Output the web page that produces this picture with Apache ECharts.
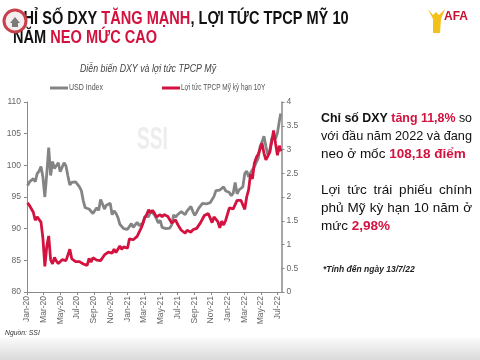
<!DOCTYPE html>
<html><head><meta charset="utf-8">
<script src="https://cdn.jsdelivr.net/npm/echarts@6/dist/echarts.min.js"></script>
<style>html,body{margin:0;padding:0;background:#fff}#c{width:480px;height:360px}</style>
</head><body><div id="c"></div>
<script>
// ---- DATA ----
const xTickLabels = ['Jan-20','Mar-20','May-20','Jul-20','Sep-20','Nov-20','Jan-21','Mar-21','May-21','Jul-21','Sep-21','Nov-21','Jan-22','Mar-22','May-22','Jul-22'];
const seriesNames = ['USD Index', 'Lợi tức TPCP Mỹ kỳ hạn 10Y'];
// weekly readings, first week ending 3 Jan 2020, last reading 13 Jul 2022
const dxyWeekly = [
  96.8, 97.4, 97.6, 97.9, 97.4,   98.7, 99.1, 99.8, 98.1,   95.0, 98.7, 102.8, 98.4,
  100.6, 99.5, 99.8, 100.4,   99.0, 99.7, 100.4, 99.9, 98.3,   96.9, 97.3, 97.6, 97.4,
  97.2, 96.6, 96.0, 94.4, 93.3,   93.4, 93.1, 93.2, 92.4,   92.7, 93.3, 92.9, 94.6,
  93.9, 93.1, 93.7, 93.4, 94.0,   92.2, 92.8, 92.4, 91.8,   90.7, 91.0, 90.0, 90.2,
  89.9, 90.1, 90.8, 90.2, 90.6,   91.0, 90.5, 90.4, 90.9,   91.9, 91.7, 91.9, 92.8,
  93.0, 92.2, 91.6, 90.9, 91.3,   90.2, 90.3, 90.0, 90.0,   90.1, 90.6, 92.2, 91.8,
  92.2, 92.1, 92.7, 92.9, 92.2,   92.8, 92.5, 93.5, 92.7,   92.1, 92.6, 93.2, 93.3,
  94.0, 94.1, 93.9, 93.6, 94.1,   94.3, 95.1, 96.0, 96.1,   96.1, 96.1, 96.6, 96.0, 95.7,
  95.7, 95.2, 95.6, 97.3,   95.5, 96.1, 96.0, 96.6,   98.7, 99.1, 98.2, 98.8,
  98.6, 99.8, 100.5, 101.1, 103.0,   103.7, 104.6, 103.0, 101.7,   102.2, 104.2, 104.7, 104.2,
  105.1, 107.0, 108.2
];
const ust10yWeekly = [
  1.88, 1.82, 1.84, 1.68, 1.51,   1.58, 1.59, 1.47, 1.13,   0.54, 0.96, 1.18, 0.68,
  0.59, 0.73, 0.65, 0.60,   0.62, 0.68, 0.64, 0.66, 0.65,   0.90, 0.70, 0.69, 0.64,
  0.67, 0.64, 0.62, 0.59, 0.55,   0.56, 0.71, 0.63, 0.72,   0.72, 0.67, 0.69, 0.66,
  0.70, 0.78, 0.74, 0.84, 0.87,   0.82, 0.90, 0.83, 0.84,   0.97, 0.90, 0.95, 0.94,
  0.92, 1.12, 1.09, 1.10, 1.07,   1.17, 1.20, 1.34, 1.44,   1.57, 1.63, 1.73, 1.67,
  1.72, 1.66, 1.58, 1.56, 1.63,   1.58, 1.63, 1.62, 1.59,   1.56, 1.45, 1.44, 1.52,
  1.43, 1.36, 1.30, 1.28, 1.24,   1.30, 1.28, 1.26, 1.31,   1.32, 1.34, 1.37, 1.46,
  1.47, 1.61, 1.57, 1.65, 1.56,   1.46, 1.58, 1.55, 1.48,   1.35, 1.49, 1.41, 1.50, 1.51,
  1.77, 1.78, 1.75, 1.78,   1.93, 1.94, 1.93, 1.97,   1.74, 2.00, 2.15, 2.48,
  2.38, 2.71, 2.83, 2.90, 2.89,   3.13, 2.92, 2.78, 2.74,   2.94, 3.16, 3.40, 3.13,
  2.88, 3.08, 2.96
];
const lastDayOffset = 924;      // 13 Jul 2022, days after 1 Jan 2020
const firstDayOffset = 2;       // 3 Jan 2020

// ---- BUILD ----
const DAYS_PER_MONTH = 30.4375;
function xPos(i) { return Math.min(firstDayOffset + 7 * i, lastDayOffset) / DAYS_PER_MONTH; }
const dxyData = dxyWeekly.map((v, i) => [xPos(i), v]);
const ustData = ust10yWeekly.map((v, i) => [xPos(i), v]);

const SANS = '"Liberation Sans", Arial, sans-serif';
const RED = '#d3123f';
const GRAY_LINE = '#848484';

const mctx = document.createElement('canvas').getContext('2d');
function tw(text, font) { mctx.font = font; return mctx.measureText(text).width; }

// text squeezed horizontally (the original uses a condensed face)
function narrowText(x, y, style, sx, z) {
  return { type: 'text', x: x, y: y, scaleX: sx, originX: 0, z: z || 10, style: style };
}

// justified paragraph lines on the right
const BODY_SIZE = 13.5;
function fontOf(seg) { return (seg.b ? 'bold ' : '') + BODY_SIZE + 'px ' + SANS; }
function lineEl(words, x0, x1, y, justify) {
  const widths = words.map(s => tw(s.t, fontOf(s)));
  const total = widths.reduce((a, b) => a + b, 0);
  const space = tw(' ', fontOf({}));
  const span = x1 - x0;
  const natural = total + space * (words.length - 1);
  let scale = 1, gap = space;
  if (natural > span) { scale = span / natural; }
  else if (justify && words.length > 1) { gap = (span - total) / (words.length - 1); }
  const children = [];
  let x = 0;
  words.forEach((s, k) => {
    children.push({ type: 'text', x: x, y: 0,
      style: { text: s.t, font: fontOf(s), fill: s.r ? RED : '#111', verticalAlign: 'middle' } });
    x += widths[k] + gap;
  });
  return { type: 'group', x: x0, y: y, scaleX: scale, z: 10, children: children };
}
const W = (t, b, r) => ({ t: t, b: !!b, r: !!r });
const TX0 = 321, TX1 = 472;
const rightText = [
  lineEl([W('Chỉ',1), W('số',1), W('DXY',1), W('tăng',1,1), W('11,8%',1,1), W('so')], TX0, TX1, 118, true),
  lineEl([W('với'), W('đầu'), W('năm'), W('2022'), W('và'), W('đang')], TX0, TX1, 136, true),
  lineEl([W('neo'), W('ở'), W('mốc'), W('108,18',1,1), W('điểm',1,1)], TX0, TX1, 154, false),
  lineEl([W('Lợi'), W('tức'), W('trái'), W('phiếu'), W('chính')], TX0, TX1, 190, true),
  lineEl([W('phủ'), W('Mỹ'), W('kỳ'), W('hạn'), W('10'), W('năm'), W('ở')], TX0, TX1, 208, true),
  lineEl([W('mức'), W('2,98%',1,1)], TX0, TX1, 226, false)
];

const TITLE_RICH = { k: { font: 'bold 18px ' + SANS, fill: '#111' }, r: { font: 'bold 18px ' + SANS, fill: RED } };

const chart = echarts.init(document.getElementById('c'), null, { renderer: 'canvas' });
chart.setOption({
  backgroundColor: '#ffffff',
  animation: false,
  grid: { left: 27, right: 198.5, top: 102, bottom: 68 },
  legend: { show: false, data: seriesNames },
  xAxis: {
    type: 'value', min: 0, max: 30.45, interval: 2,
    splitLine: { show: false },
    axisLine: { lineStyle: { color: '#8a8a8a', width: 1 } },
    axisTick: { length: 3, lineStyle: { color: '#8a8a8a' } },
    axisLabel: {
      rotate: 90, fontSize: 8.5, color: '#666', fontFamily: SANS, margin: 4, showMaxLabel: false,
      formatter: v => (Math.abs(v / 2 - Math.round(v / 2)) < 1e-6 && xTickLabels[Math.round(v / 2)]) || ''
    }
  },
  yAxis: [
    { type: 'value', min: 80, max: 110, interval: 5, splitLine: { show: false },
      axisLine: { show: true, lineStyle: { color: '#8a8a8a' } },
      axisTick: { show: true, length: 3, lineStyle: { color: '#8a8a8a' } },
      axisLabel: { fontSize: 8.5, color: '#666', fontFamily: SANS, margin: 6 } },
    { type: 'value', min: 0, max: 4, interval: 0.5, position: 'right', splitLine: { show: false },
      axisLine: { show: true, lineStyle: { color: '#8a8a8a', width: 1.5 } },
      axisTick: { show: true, length: 3, lineStyle: { color: '#8a8a8a' } },
      axisLabel: { fontSize: 8.5, color: '#666', fontFamily: SANS, margin: 5 } }
  ],
  series: [
    { name: seriesNames[0], type: 'line', yAxisIndex: 0, data: dxyData, showSymbol: false, z: 3,
      lineStyle: { color: GRAY_LINE, width: 2.8 }, itemStyle: { color: GRAY_LINE } },
    { name: seriesNames[1], type: 'line', yAxisIndex: 1, data: ustData, showSymbol: false, z: 4,
      lineStyle: { color: RED, width: 2.8 }, itemStyle: { color: RED } }
  ],
  graphic: [
    // bottom band
    { type: 'rect', shape: { x: 0, y: 338, width: 480, height: 22 }, z: 0,
      style: { fill: new echarts.graphic.LinearGradient(0, 0, 0, 1, [{ offset: 0, color: '#fafafa' }, { offset: 1, color: '#d9d9d9' }]) } },
    // watermark
    narrowText(137, 140, { text: 'SSI', font: 'bold 32px ' + SANS, fill: '#ededed', verticalAlign: 'middle' }, 0.6, 1),
    // headline
    narrowText(13, 19, { text: '{k|CHỈ SỐ DXY }{r|TĂNG MẠNH}{k|, LỢI TỨC TPCP MỸ 10}', verticalAlign: 'middle', rich: TITLE_RICH }, 0.81),
    narrowText(13, 38, { text: '{k|NĂM }{r|NEO MỨC CAO}', verticalAlign: 'middle', rich: TITLE_RICH }, 0.81),
    // left emblem
    { type: 'circle', shape: { cx: 15, cy: 21, r: 11 }, z: 11,
      style: { fill: '#f6eeee', stroke: '#c8404a', lineWidth: 3 } },
    { type: 'polygon', shape: { points: [[10, 23], [15, 17], [20, 23], [18, 23], [18, 27], [12, 27], [12, 23]] }, z: 12,
      style: { fill: '#7a7a7a' } },
    // right logo
    { type: 'polygon', shape: { points: [[428, 9], [433, 15], [436, 12], [439, 15], [445, 9], [441, 19], [440, 33], [433, 33], [433, 19]] }, z: 11,
      style: { fill: '#f2c21b' } },
    { type: 'text', x: 444, y: 17, z: 12,
      style: { text: 'AFA', font: 'bold 12px ' + SANS, fill: '#c8102e', verticalAlign: 'middle' } },
    // chart subtitle
    narrowText(80, 69, { text: 'Diễn biến DXY và lợi tức TPCP Mỹ', font: 'italic 11px ' + SANS, fill: '#444', verticalAlign: 'middle' }, 0.8),
    // legend
    { type: 'rect', shape: { x: 50, y: 86.5, width: 18, height: 3 }, z: 10, style: { fill: GRAY_LINE } },
    narrowText(69, 88, { text: seriesNames[0], font: '9px ' + SANS, fill: '#555', verticalAlign: 'middle' }, 0.78),
    { type: 'rect', shape: { x: 162, y: 86.5, width: 18, height: 3 }, z: 10, style: { fill: RED } },
    narrowText(181, 88, { text: seriesNames[1], font: '9px ' + SANS, fill: '#555', verticalAlign: 'middle' }, 0.72),
    // footnotes
    { type: 'text', x: 323, y: 270, z: 10,
      style: { text: '*Tính đến ngày 13/7/22', font: 'italic bold 8.5px ' + SANS, fill: '#222', verticalAlign: 'middle' } },
    narrowText(5, 333, { text: 'Nguồn: SSI', font: 'italic 8px ' + SANS, fill: '#333', verticalAlign: 'middle' }, 0.85)
  ].concat(rightText)
});
</script>
</body></html>
